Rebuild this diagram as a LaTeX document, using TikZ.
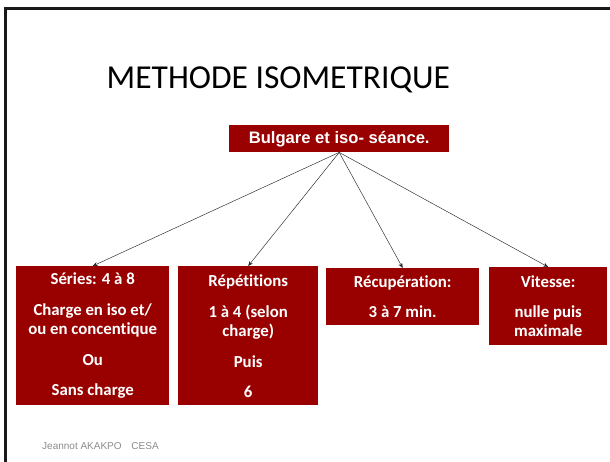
\documentclass[tikz,border=0pt]{standalone}
\usepackage{fontspec}
\setmainfont{Carlito}
\newfontfamily\calibri[Ligatures=NoCommon]{Carlito}
\newfontfamily\arialfont{Liberation Sans}
\usetikzlibrary{arrows.meta}
\definecolor{boxred}{HTML}{990000}
\definecolor{footgray}{HTML}{8C8C8C}
\begin{document}
\begin{tikzpicture}[x=1pt,y=-1pt,
  redbox/.style={fill=boxred, text=white, align=center, inner sep=0pt, anchor=north west},
  cardtext/.style={font=\fontsize{16.8}{19}\selectfont\calibri\bfseries},
  link/.style={draw=black!85, line width=0.45pt, -{Stealth[length=5pt,width=4pt]}}]
  \useasboundingbox (0,0) rectangle (610,462);
  \fill[white] (0,0) rectangle (610,462);
  % slide frame
  \draw[line width=2.6pt, black!90] (5.5,470) |- (615,8.7);
  % title
  \node[anchor=base west, inner sep=0pt, font=\fontsize{33.5}{40}\selectfont\calibri]
    (title) at (106.5,89) {METHODE ISOMETRIQUE};
  % root box
  \node[redbox, minimum width=220pt, minimum height=27pt,
        font=\fontsize{16.6}{20}\selectfont\arialfont\bfseries]
    (root) at (229,125) {Bulgare et iso- séance.};
  % child boxes
  \node[redbox, cardtext, minimum width=153pt, minimum height=139pt] (series) at (16,266)
    {Séries: 4 à 8\\[12pt]Charge en iso et/\\ou en concentique\\[12pt]Ou\\[11pt]Sans charge};
  \node[redbox, cardtext, minimum width=140pt, minimum height=139pt] (repet) at (178,266)
    {Répétitions\\[12pt]1 à 4 (selon\\charge)\\[12pt]Puis\\[11pt]6};
  \node[redbox, cardtext, minimum width=153pt, minimum height=57pt] (recup) at (326,268)
    {Récupération:\\[11pt]3 à 7 min.};
  \node[redbox, cardtext, minimum width=118pt, minimum height=78pt] (vitesse) at (489,267)
    {Vitesse:\\[11pt]nulle puis\\maximale};
  % connectors
  \draw[link] (root.south) -- (series.north);
  \draw[link] (root.south) -- (repet.north);
  \draw[link] (root.south) -- (recup.north);
  \draw[link] (root.south) -- (vitesse.north);
  % footer
  \node[anchor=base west, inner sep=0pt, text=footgray, font=\fontsize{10}{12}\selectfont\arialfont]
    (footer) at (42,449) {Jeannot AKAKPO\hspace{7pt} CESA};
\end{tikzpicture}
\end{document}
